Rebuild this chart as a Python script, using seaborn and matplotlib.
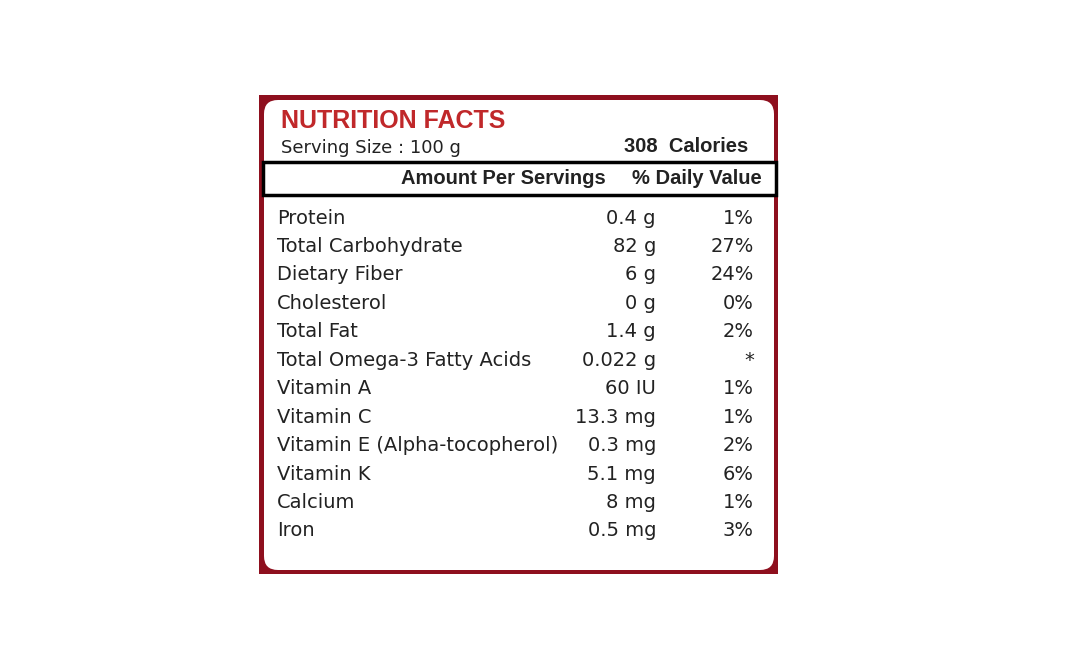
import matplotlib
matplotlib.use("Agg")
import matplotlib.pyplot as plt
import seaborn as sns
from matplotlib.patches import FancyBboxPatch, Rectangle

nutrients = ["Protein", "Total Carbohydrate", "Dietary Fiber", "Cholesterol", "Total Fat",
             "Total Omega-3 Fatty Acids", "Vitamin A", "Vitamin C",
             "Vitamin E (Alpha-tocopherol)", "Vitamin K", "Calcium", "Iron"]
amounts = ["0.4 g", "82 g", "6 g", "0 g", "1.4 g", "0.022 g", "60 IU", "13.3 mg",
           "0.3 mg", "5.1 mg", "8 mg", "0.5 mg"]
daily_values = ["1%", "27%", "24%", "0%", "2%", "*", "1%", "1%", "2%", "6%", "1%", "3%"]
title = "NUTRITION FACTS"
serving = "Serving Size : 100 g"
calories = "308  Calories"

sns.set_theme(style="white")
fig = plt.figure(figsize=(10.68, 6.71), dpi=100)
ax = fig.add_axes([0, 0, 1, 1])
ax.set_xlim(0, 1068)
ax.set_ylim(671, 0)
ax.axis("off")
fig.patch.set_facecolor("white")

ax.add_patch(Rectangle((259, 95), 519, 479, facecolor="#8e0f1e", edgecolor="none"))
ax.add_patch(FancyBboxPatch((264, 100), 510, 470, boxstyle="round,pad=0,rounding_size=14",
                            facecolor="white", edgecolor="none"))
ax.add_patch(Rectangle((263, 162), 513, 33, facecolor="white", edgecolor="black", lw=2.5))

bold = "Liberation Sans"
body = "DejaVu Sans"
ax.text(281, 121, title, color="#c0282a", fontsize=18, fontweight="bold", family=bold, va="center")
ax.text(281, 148, serving, fontsize=13, family=body, va="center", color="#222222")
ax.text(748, 146, calories, fontsize=14.5, fontweight="bold", family=bold, va="center", ha="right", color="#222222")
ax.text(606, 178, "Amount Per Servings", fontsize=14.5, fontweight="bold", family=bold, va="center", ha="right", color="#222222")
ax.text(762, 178, "% Daily Value", fontsize=14.5, fontweight="bold", family=bold, va="center", ha="right", color="#222222")

for i, (n, a, d) in enumerate(zip(nutrients, amounts, daily_values)):
    y = 218 + i * 28.45
    ax.text(277, y, n, fontsize=14, family=body, va="center", color="#222222")
    ax.text(656, y, a, fontsize=14, family=body, va="center", ha="right", color="#222222")
    ax.text(754, y, d, fontsize=14, family=body, va="center", ha="right", color="#222222")

fig.savefig("out.png", dpi=100)
